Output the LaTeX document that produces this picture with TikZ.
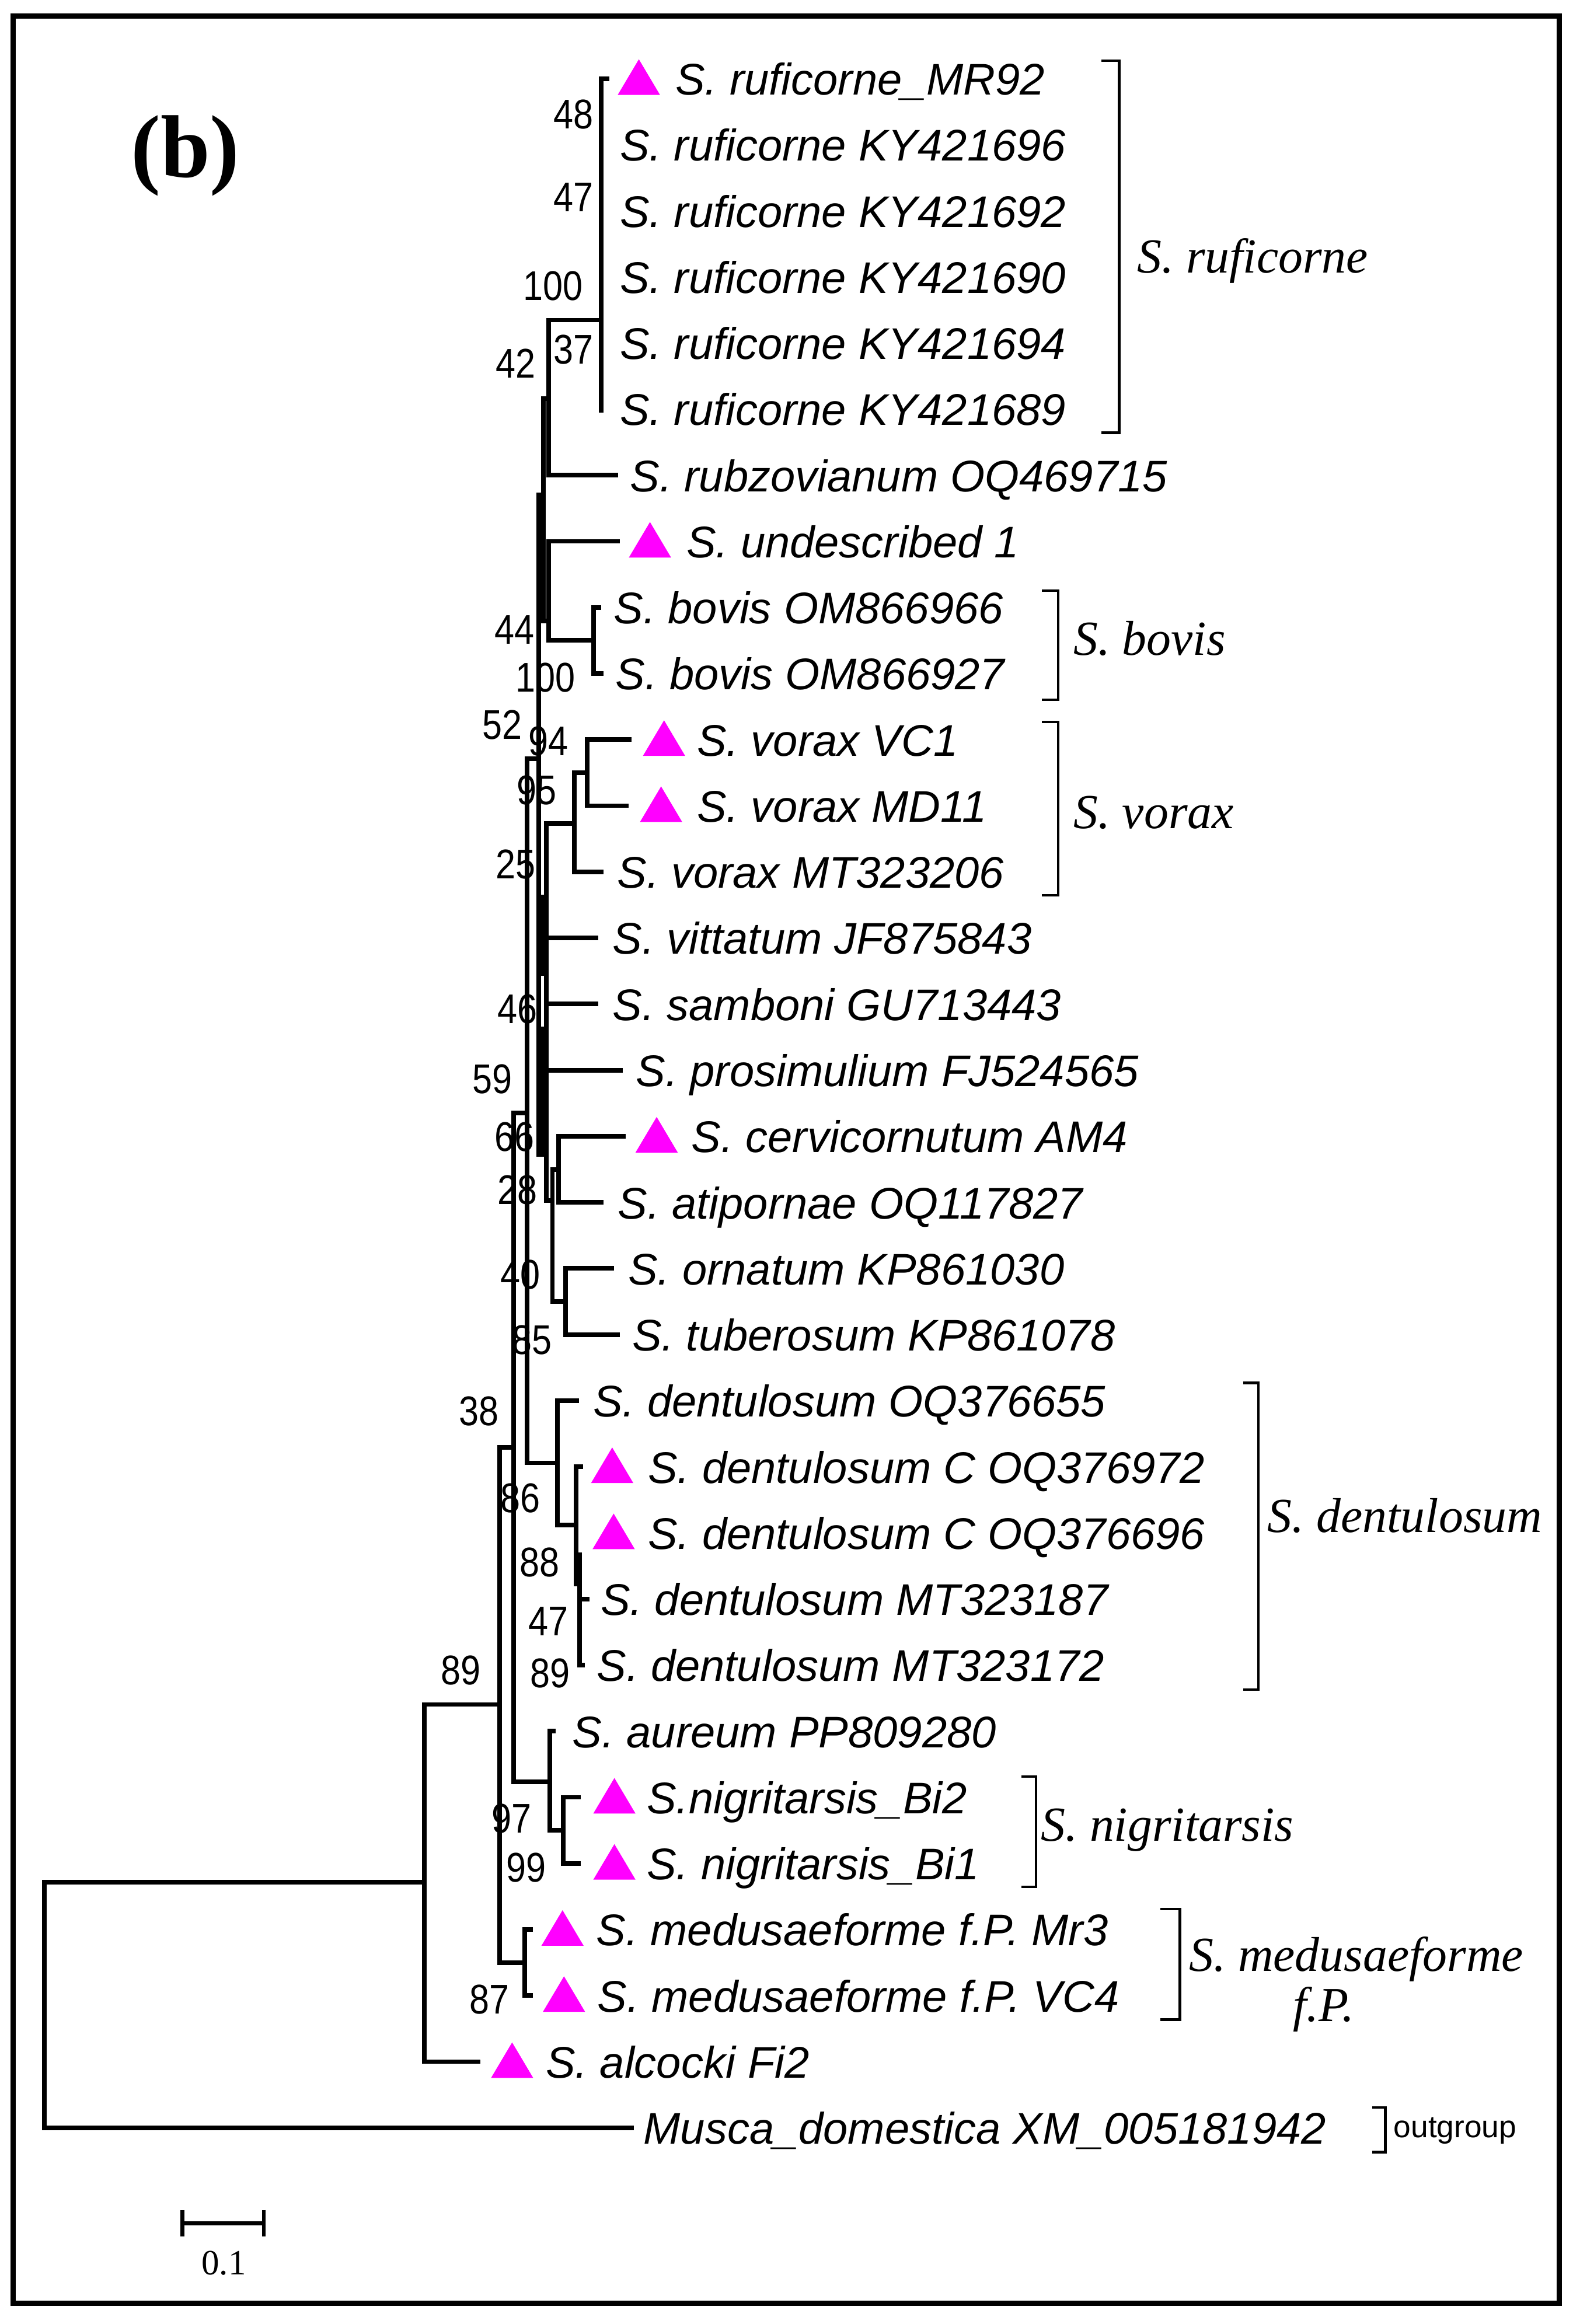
\documentclass[tikz,border=0pt]{standalone}
\usepackage{fontspec}
\newfontfamily\leaffam{Liberation Sans}
\newfontfamily\bsfam{Liberation Sans}[FakeStretch=0.86]
\newfontfamily\serfam{Liberation Serif}
\definecolor{mag}{RGB}{255,0,255}
\begin{document}
\begin{tikzpicture}[x=1pt,y=-1pt,
  br/.style={line width=3.1pt, line cap=rect, line join=miter},
  brk/.style={line width=1.7pt},
  leaf/.style={anchor=base west, inner sep=0pt, font=\leaffam\itshape\fontsize{29.9}{36}\selectfont},
  bs/.style={inner sep=0pt, font=\bsfam\fontsize{28}{30}\selectfont},
  clade/.style={anchor=base west, inner sep=0pt, font=\serfam\itshape\fontsize{33}{34}\selectfont},
  tri/.pic={\fill[mag] (-14.25,0) -- (14.25,0) -- (0,-24) -- cycle;}]
\useasboundingbox (0,0) rectangle (1061,1568);
\draw[line width=3.5pt] (9,11) rectangle (1052,1554);

% panel label
\node[inner sep=0pt, font=\serfam\bfseries\fontsize{60}{66}\selectfont] (panel) at (125,105) {(b)};

% bootstrap values
\node[bs] (b48) at (387,77) {48};
\node[bs] (b47a) at (387,133) {47};
\node[bs] (b100a) at (373,193) {100};
\node[bs] (b37) at (387,236) {37};
\node[bs] (b42) at (348,245) {42};
\node[bs] (b44) at (347,425) {44};
\node[bs] (b100b) at (368,457) {100};
\node[bs] (b52) at (339,489) {52};
\node[bs] (b94) at (370,500) {94};
\node[bs] (b95) at (362,533) {95};
\node[bs] (b25) at (348,583) {25};
\node[bs] (b46) at (349,681) {46};
\node[bs] (b59) at (332,728) {59};
\node[bs] (b66) at (347,767) {66};
\node[bs] (b28) at (349,803) {28};
\node[bs] (b40) at (351,860) {40};
\node[bs] (b85) at (359,904) {85};
\node[bs] (b38) at (323,952) {38};
\node[bs] (b86) at (351,1011) {86};
\node[bs] (b88) at (364,1054) {88};
\node[bs] (b47b) at (370,1094) {47};
\node[bs] (b89a) at (371,1129) {89};
\node[bs] (b89b) at (311,1127) {89};
\node[bs] (b97) at (345,1227) {97};
\node[bs] (b99) at (355,1260) {99};
\node[bs] (b87) at (330,1349) {87};

% tree coordinates
\coordinate (root) at (30,1270);
\coordinate (n89) at (286.2,1270);
\coordinate (tip32) at (426,1435.6);
\coordinate (tip31) at (322.6,1391);
\coordinate (n38) at (337,1150);
\coordinate (n87) at (354,1324.1);
\coordinate (tip29) at (357.8,1301.8);
\coordinate (tip30) at (357.8,1346.4);
\coordinate (nA) at (346.4,976.4);
\coordinate (nAur) at (371,1202);
\coordinate (tip26) at (373.5,1168);
\coordinate (nNig) at (380,1235);
\coordinate (tip27) at (390.4,1212.6);
\coordinate (tip28) at (390.4,1257.2);
\coordinate (nB) at (355.6,751);
\coordinate (nDent) at (376,987);
\coordinate (tip21) at (389,945);
\coordinate (nD2) at (388.6,1029);
\coordinate (tip22) at (392,989.6);
\coordinate (nD3) at (391,1068.6);
\coordinate (tip24) at (396,1078.8);
\coordinate (tip25) at (393,1123.4);
\coordinate (nC) at (363.3,512);
\coordinate (nTop) at (366.5,334);
\coordinate (nR) at (370,269);
\coordinate (nS) at (370,419);
\coordinate (nRuf) at (405.5,216);
\coordinate (tip1) at (409.5,53);
\coordinate (tip6) at (405.5,277);
\coordinate (tip7) at (415.4,320.6);
\coordinate (tip8) at (416.8,365.2);
\coordinate (nBov) at (400.3,432.1);
\coordinate (tip9) at (404,409.8);
\coordinate (tip10) at (405.5,454.4);
\coordinate (nLow) at (368.5,779);
\coordinate (nVor) at (387.5,555.5);
\coordinate (nVor2) at (396,521.3);
\coordinate (tip11) at (424.4,499);
\coordinate (tip12) at (422.5,543.6);
\coordinate (tip13) at (405.5,588.2);
\coordinate (tip14) at (402.2,632.8);
\coordinate (tip15) at (402.2,677.4);
\coordinate (tip16) at (418.6,722);
\coordinate (nLow2) at (372.7,810);
\coordinate (nCerv) at (377,789);
\coordinate (tip17) at (420.5,766.6);
\coordinate (tip18) at (405.5,811.2);
\coordinate (nOrn) at (381.5,878.1);
\coordinate (tip19) at (412.6,855.8);
\coordinate (tip20) at (416.5,900.4);
\coordinate (thkA1) at (366,605);
\coordinate (thkA2) at (366,657);
\coordinate (thkB1) at (366,694);
\coordinate (thkB2) at (366,779);
\coordinate (thkC1) at (391,1049);

% branches
\draw[br] (root) |- (n89);
\draw[br] (root) |- (tip32);
\draw[br] (n89) |- (tip31);
\draw[br] (n89) |- (n38);
\draw[br] (n38) |- (n87);
\draw[br] (n87) |- (tip29);
\draw[br] (n87) |- (tip30);
\draw[br] (n38) |- (nA);
\draw[br] (nA) |- (nAur);
\draw[br] (nAur) |- (tip26);
\draw[br] (nAur) |- (nNig);
\draw[br] (nNig) |- (tip27);
\draw[br] (nNig) |- (tip28);
\draw[br] (nA) |- (nB);
\draw[br] (nB) |- (nDent);
\draw[br] (nDent) |- (tip21);
\draw[br] (nDent) |- (nD2);
\draw[br] (nD2) |- (tip22);
\draw[br] (nD2) |- (nD3);
\draw[br] (nD3) |- (tip24);
\draw[br] (nD3) |- (tip25);
\draw[br] (nD3) -- (thkC1);
\draw[br] (nB) |- (nC);
\draw[br] (nC) |- (nTop);
\draw[br] (nTop) |- (nR);
\draw[br] (nTop) |- (nS);
\draw[br] (nR) |- (nRuf);
\draw[br] (nR) |- (tip7);
\draw[br] (nRuf) |- (tip1);
\draw[br] (nRuf) |- (tip6);
\draw[br] (nS) |- (tip8);
\draw[br] (nS) |- (nBov);
\draw[br] (nBov) |- (tip9);
\draw[br] (nBov) |- (tip10);
\draw[br] (nC) |- (nLow);
\draw[br] (nLow) |- (nVor);
\draw[br] (nLow) |- (tip14);
\draw[br] (nLow) |- (tip15);
\draw[br] (nLow) |- (tip16);
\draw[br] (nLow) |- (nLow2);
\draw[br] (nVor) |- (nVor2);
\draw[br] (nVor) |- (tip13);
\draw[br] (nVor2) |- (tip11);
\draw[br] (nVor2) |- (tip12);
\draw[br] (nLow2) |- (nCerv);
\draw[br] (nLow2) |- (nOrn);
\draw[br] (nCerv) |- (tip17);
\draw[br] (nCerv) |- (tip18);
\draw[br] (nOrn) |- (tip19);
\draw[br] (nOrn) |- (tip20);
\draw[br] (thkA1) -- (thkA2);
\draw[br] (thkB1) -- (thkB2);

% markers
\pic at (431,64) {tri};
\pic at (438.5,376.2) {tri};
\pic at (448,510) {tri};
\pic at (446,554.6) {tri};
\pic at (443,777.6) {tri};
\pic at (413,1000.6) {tri};
\pic at (414,1045.2) {tri};
\pic at (414.5,1223.6) {tri};
\pic at (414.5,1268.2) {tri};
\pic at (379.5,1312.8) {tri};
\pic at (380.5,1357.4) {tri};
\pic at (345.5,1402) {tri};

% leaf labels
\node[leaf] (l1) at (455.5,64) {S. ruficorne\_MR92};
\node[leaf] (l2) at (418,108.6) {S. ruficorne KY421696};
\node[leaf] (l3) at (418,153.2) {S. ruficorne KY421692};
\node[leaf] (l4) at (418,197.8) {S. ruficorne KY421690};
\node[leaf] (l5) at (418,242.4) {S. ruficorne KY421694};
\node[leaf] (l6) at (418,287) {S. ruficorne KY421689};
\node[leaf] (l7) at (425,331.6) {S. rubzovianum OQ469715};
\node[leaf] (l8) at (463,376.2) {S. undescribed 1};
\node[leaf] (l9) at (414,420.8) {S. bovis OM866966};
\node[leaf] (l10) at (415,465.4) {S. bovis OM866927};
\node[leaf] (l11) at (470,510) {S. vorax VC1};
\node[leaf] (l12) at (470,554.6) {S. vorax MD11};
\node[leaf] (l13) at (416.2,599.2) {S. vorax MT323206};
\node[leaf] (l14) at (413.2,643.8) {S. vittatum JF875843};
\node[leaf] (l15) at (413.2,688.4) {S. samboni GU713443};
\node[leaf] (l16) at (429,733) {S. prosimulium FJ524565};
\node[leaf] (l17) at (466.4,777.6) {S. cervicornutum AM4};
\node[leaf] (l18) at (416.7,822.2) {S. atipornae OQ117827};
\node[leaf] (l19) at (423.6,866.8) {S. ornatum KP861030};
\node[leaf] (l20) at (426.3,911.4) {S. tuberosum KP861078};
\node[leaf] (l21) at (400,956) {S. dentulosum OQ376655};
\node[leaf] (l22) at (437,1000.6) {S. dentulosum C OQ376972};
\node[leaf] (l23) at (437,1045.2) {S. dentulosum C OQ376696};
\node[leaf] (l24) at (405,1089.8) {S. dentulosum MT323187};
\node[leaf] (l25) at (402.4,1134.4) {S. dentulosum MT323172};
\node[leaf] (l26) at (386,1179) {S. aureum PP809280};
\node[leaf] (l27) at (436.2,1223.6) {S.nigritarsis\_Bi2};
\node[leaf] (l28) at (436.2,1268.2) {S. nigritarsis\_Bi1};
\node[leaf] (l29) at (402.2,1312.8) {S. medusaeforme f.P. Mr3};
\node[leaf] (l30) at (403,1357.4) {S. medusaeforme f.P. VC4};
\node[leaf] (l31) at (368,1402) {S. alcocki Fi2};
\node[leaf] (l32) at (434,1446.6) {Musca\_domestica XM\_005181942};

% clade brackets
\draw[brk] (743,41) -- (755,41) -- (755,292) -- (743,292);
\draw[brk] (703,398.5) -- (714,398.5) -- (714,472) -- (703,472);
\draw[brk] (703,487) -- (714,487) -- (714,604) -- (703,604);
\draw[brk] (838.6,933) -- (849,933) -- (849,1140) -- (838.6,1140);
\draw[brk] (689,1198.5) -- (699,1198.5) -- (699,1273) -- (689,1273);
\draw[brk] (783,1288) -- (796,1288) -- (796,1362.6) -- (783,1362.6);
\draw[brk] (925.6,1422) -- (934.6,1422) -- (934.6,1452) -- (925.6,1452);

\node[clade] (cRuf) at (767,184) {S. ruficorne};
\node[clade] (cBov) at (724,442) {S. bovis};
\node[clade] (cVor) at (724,559) {S. vorax};
\node[clade] (cDen) at (855,1034) {S. dentulosum};
\node[clade] (cNig) at (702,1242) {S. nigritarsis};
\node[clade] (cMed) at (802,1330) {S. medusaeforme};
\node[clade] (cMed2) at (872,1364) {f.P.};
\node[anchor=base west, inner sep=0pt, font=\leaffam\fontsize{21}{24}\selectfont] (cOut) at (940,1442) {outgroup};

% scale bar
\coordinate (sbL) at (123,1500);
\coordinate (sbR) at (178,1500);
\draw[line width=2.5pt] (sbL) -- (sbR);
\draw[line width=2.5pt] ([yshift=9pt]sbL) -- ([yshift=-9pt]sbL);
\draw[line width=2.5pt] ([yshift=9pt]sbR) -- ([yshift=-9pt]sbR);
\node[inner sep=0pt, font=\serfam\fontsize{24}{26}\selectfont] (sbT) at (151,1527) {0.1};
\end{tikzpicture}
\end{document}
